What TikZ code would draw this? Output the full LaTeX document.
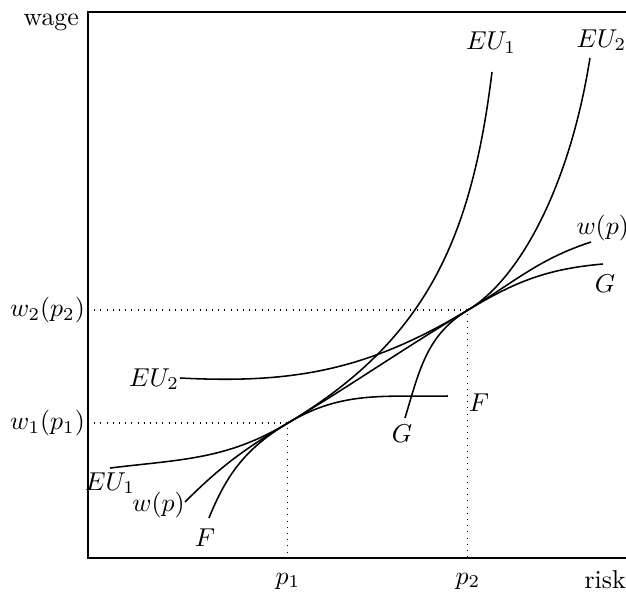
\documentclass[tikz,border=0pt]{standalone}
\usepackage{amsmath,amssymb}
\usepackage{tikz}
\usetikzlibrary{positioning,calc}

\tikzset{
    curve/.style={semithick},
    guide/.style={dotted},
    lbl/.style={anchor=base},
    edgelbl/.style={anchor=base west, inner sep=0pt}
}

\begin{document}
\begin{tikzpicture}
    \useasboundingbox (-1.197,-0.463) rectangle (7.320,7.592);

    % Open frame: wage against risk
    \draw[semithick] (7.32,7.43) -- (0,7.43) -- (0,0) -- (7.32,0);
    \node[lbl] (wage) at (-0.50,7.25) {wage};
    \node[edgelbl] (risk) at (6.75,-0.41) {risk};

    % Points of tangency
    \coordinate (P1) at (2.721,1.837);
    \coordinate (P2) at (5.170,3.374);

    % Axis labels and guides
    \node[left, inner sep=1pt] (w1) at (0,1.837) {$w_1(p_1)$};
    \node[left, inner sep=1pt] (w2) at (0,3.374) {$w_2(p_2)$};
    \node[lbl] (p1) at (2.721,-0.354) {$p_1$};
    \node[lbl] (p2) at (5.170,-0.354) {$p_2$};
    \coordinate (p1foot) at (2.721,0);
    \coordinate (p2foot) at (5.170,0);
    \draw[guide] (w1.east) -- (P1) -- (p1foot);
    \draw[guide] (w2.east) -- (P2) -- (p2foot);

    % End points of the curves
    \coordinate (wA) at (1.320,0.762);   \coordinate (wB) at (6.844,4.299);
    \coordinate (eA) at (0.299,1.224);   \coordinate (eB) at (5.497,6.612);
    \coordinate (fA) at (1.252,2.449);   \coordinate (fB) at (6.830,6.803);
    \coordinate (FA) at (1.646,0.544);   \coordinate (FB) at (4.898,2.204);
    \coordinate (GA) at (4.313,1.905);   \coordinate (GB) at (7.007,4.000);

    % Wage function w(p)
    \draw[curve] (wA) to[out=45,in=211] (P1) to[out=31,in=211] (P2) to[out=31,in=198] (wB);
    % Indifference curves
    \draw[curve] (eA) to[out=7,in=211] (P1) .. controls +(31:2.18) and +(263:2.31) .. (eB);
    \draw[curve] (fA) to[out=-3,in=211] (P2) .. controls +(31:0.82) and +(261:1.77) .. (fB);
    % Offer curves
    \draw[curve] (FA) to[out=68,in=211] (P1) to[out=31,in=181] (FB);
    \draw[curve] (GA) to[out=73,in=211] (P2) to[out=31,in=185] (GB);

    % Curve labels
    \node[lbl] (eU1top) at (5.483,6.912) {$EU_1$};
    \node[edgelbl] (eU2top) at (6.640,6.952) {$EU_2$};
    \node[edgelbl] (wtop) at (6.640,4.395) {$w(p)$};
    \node[lbl] (Gtop) at (7.034,3.619) {$G$};
    \node[lbl] (Ftop) at (5.320,2.000) {$F$};
    \node[lbl] (Gbot) at (4.272,1.565) {$G$};
    \node[lbl] (eU2bot) at (0.898,2.340) {$EU_2$};
    \node[lbl] (eU1bot) at (0.299,0.925) {$EU_1$};
    \node[lbl] (wbot) at (0.959,0.639) {$w(p)$};
    \node[lbl] (Fbot) at (1.592,0.150) {$F$};
\end{tikzpicture}
\end{document}
